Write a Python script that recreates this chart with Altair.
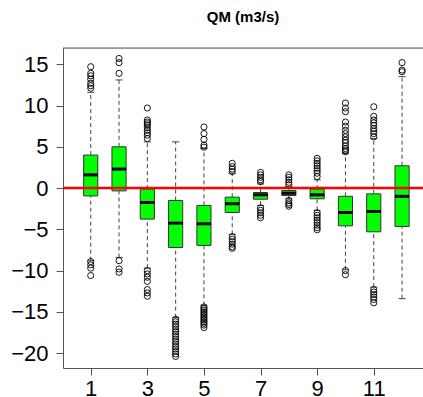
import altair as alt
import pandas as pd

months = list(range(1, 13))
q1 = [-0.95, -0.34, -3.76, -7.2, -6.95, -2.96, -1.35, -0.9, -1.3, -4.57, -5.3, -4.65]
med = [1.6, 2.3, -1.75, -4.25, -4.33, -1.9, -0.82, -0.62, -0.82, -2.96, -2.84, -1.0]
q3 = [4.0, 5.0, -0.13, -1.5, -2.1, -1.1, -0.54, -0.3, -0.13, -1.0, -0.7, 2.7]
whisk_lo = [-8.8, -8.4, -9.7, -15.7, -14.2, -5.6, -2.1, -1.3, -2.7, -9.9, -12.0, -13.4]
whisk_hi = [11.6, 13.1, 5.6, 5.6, 4.8, 1.8, 0.5, 0.2, 1.0, 4.2, 6.0, 13.5]

outliers = {
    1: [14.7, 13.9, 13.6, 13.2, 12.7, 12.4, 12.1, -8.9, -9.3, -9.7, -10.6],
    2: [15.7, 15.2, 13.9, -8.8, -9.8, -10.2],
    3: [9.7, 8.25, 8.0, 7.8, 7.6, 7.3, 7.0, 6.7, 6.4, 6.0,
        -10.0, -10.4, -10.8, -11.3, -12.3, -12.7, -13.1],
    4: [-15.9, -16.2, -16.5, -16.8, -17.1, -17.4, -17.7, -18.0, -18.3, -18.6,
        -18.9, -19.2, -19.5, -19.8, -20.1, -20.4],
    5: [7.4, 6.6, 5.9, 5.2, 4.95,
        -14.4, -14.6, -14.8, -15.0, -15.2, -15.4, -15.6, -15.8, -16.0, -16.2,
        -16.4, -16.6, -16.9],
    6: [3.0, 2.6, 2.3, 2.0, -5.9, -6.2, -6.5, -6.8, -7.1, -7.3],
    7: [1.9, 1.6, 1.3, 1.0, 0.8, -2.4, -2.7, -3.0, -3.3, -3.6],
    8: [1.6, 1.3, 1.0, 0.7, 0.4, -1.5, -1.8, -2.0, -2.2],
    9: [3.6, 3.3, 3.0, 2.7, 2.4, 2.1, 1.8, 1.4,
        -3.0, -3.3, -3.6, -3.9, -4.2, -4.5, -4.8, -5.05],
    10: [10.3, 9.7, 9.25, 8.0, 7.5, 7.0, 6.6, 6.2, 5.8, 5.5, 5.1, 4.8, 4.6, 4.4,
         -10.0, -10.5],
    11: [9.85, 8.7, 8.25, 7.9, 7.6, 7.2, 6.9, 6.6, 6.2,
         -12.3, -12.6, -12.9, -13.2, -13.5, -13.9],
    12: [15.2, 14.3, 14.1],
}

half_box = 0.25
half_cap = 0.125

box_df = pd.DataFrame({
    "month": months, "q1": q1, "med": med, "q3": q3,
    "lo": whisk_lo, "hi": whisk_hi,
})
box_df["xl"] = box_df["month"] - half_box
box_df["xr"] = box_df["month"] + half_box
box_df["cl"] = box_df["month"] - half_cap
box_df["cr"] = box_df["month"] + half_cap

out_rows = [{"month": m, "v": v} for m, vals in outliers.items() for v in vals]
out_df = pd.DataFrame(out_rows)

zero_df = pd.DataFrame({"y": [0]})

xscale = alt.Scale(domain=[0.02, 12.74], nice=False, zero=False)
yscale = alt.Scale(domain=[-21.8, 16.97], nice=False, zero=False)

FONT = "Liberation Sans"
AX = "#555555"

label_expr = "datum.value % 2 == 1 ? datum.value : ''"

xaxis = alt.Axis(values=months, labelExpr=label_expr, title=None, grid=False,
                 domainColor=AX, tickColor=AX, tickSize=7, labelFontSize=22,
                 labelFont=FONT, labelColor="black", labelPadding=3,
                 labelFlush=False, labelOverlap=False, domainWidth=1)
yaxis = alt.Axis(values=[-20, -15, -10, -5, 0, 5, 10, 15], title=None, grid=False,
                 domainColor=AX, tickColor=AX, tickSize=7, labelFontSize=22,
                 labelFont=FONT, labelColor="black", labelPadding=8,
                 labelFlush=False, labelOverlap=False, domainWidth=1)

base = alt.Chart(box_df)

whisk_up = base.mark_rule(color="#444444", strokeDash=[4, 3], strokeWidth=1).encode(
    x=alt.X("month:Q", scale=xscale, axis=xaxis),
    y=alt.Y("q3:Q", scale=yscale, axis=yaxis),
    y2="hi:Q",
)
whisk_dn = base.mark_rule(color="#444444", strokeDash=[4, 3], strokeWidth=1).encode(
    x="month:Q", y="lo:Q", y2="q1:Q",
)
cap_hi = base.mark_rule(color="#444444", strokeWidth=1).encode(
    x="cl:Q", x2="cr:Q", y="hi:Q",
)
cap_lo = base.mark_rule(color="#444444", strokeWidth=1).encode(
    x="cl:Q", x2="cr:Q", y="lo:Q",
)
boxes = base.mark_rect(fill="#00FF00", stroke="#333333", strokeWidth=1).encode(
    x="xl:Q", x2="xr:Q", y="q1:Q", y2="q3:Q",
)
medians = base.mark_rule(color="black", strokeWidth=3).encode(
    x="xl:Q", x2="xr:Q", y="med:Q",
)
pts = alt.Chart(out_df).mark_point(shape="circle", filled=False, color="black",
                                    strokeWidth=0.9, size=38, opacity=1).encode(
    x="month:Q", y="v:Q",
)
zero = alt.Chart(zero_df).mark_rule(color="#FF0000", strokeWidth=2.5).encode(
    y="y:Q",
)
topline = alt.Chart(zero_df).mark_rule(color=AX, strokeWidth=1).encode(
    x=alt.value(0), x2=alt.value(360), y=alt.value(0),
)

chart = alt.layer(whisk_up, whisk_dn, cap_hi, cap_lo, boxes, medians, pts, zero, topline).properties(
    width=360,
    height=320,
    title=alt.TitleParams("QM (m3/s)", font=FONT, fontSize=15, fontWeight="bold",
                          anchor="middle", offset=23, color="black"),
    autosize=alt.AutoSizeParams(type="none"),
    padding={"left": 63, "top": 48, "right": 0, "bottom": 29},
).configure_view(stroke=None).configure(background="white")

chart.save("out.html", embed_options={"renderer": "svg", "actions": False})
